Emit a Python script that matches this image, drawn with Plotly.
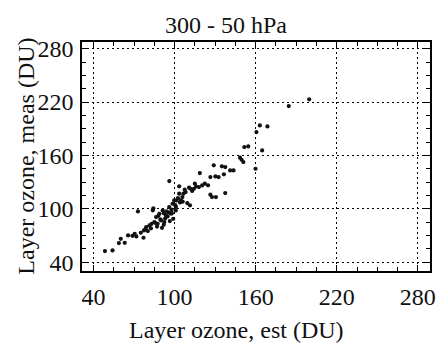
import plotly.graph_objects as go

# Layer ozone estimated (x) vs measured (y), DU
est = [48.5, 54.1, 58.8, 60.2, 63.1, 65.6, 68.8, 70.5, 71.7, 72.9, 75.0, 77.0, 77.3, 78.5, 79.0,
       80.2, 81.4, 82.5, 83.0, 83.9, 84.3, 85.0, 86.0, 86.3, 87.0, 87.5, 88.0, 88.7, 89.5, 90.0,
       90.7, 91.2, 92.0, 92.0, 92.4, 93.0, 93.6, 94.0, 94.8, 95.5, 96.0, 96.5, 96.1, 97.3, 97.8,
       98.0, 98.5, 99.0, 99.7, 100.5, 100.9, 101.0, 101.4, 102.5, 103.4, 103.4, 104.0, 104.6, 105.8,
       106.0, 106.5, 107.5, 108.2, 109.4, 110.7, 111.4, 111.9, 113.0, 114.3, 115.0, 116.0, 118.0,
       118.7, 120.4, 122.4, 124.8, 126.5, 126.5, 127.7, 129.0, 130.2, 130.6, 132.6, 135.0, 136.5,
       137.5, 137.5, 141.1, 143.6, 148.4, 149.6, 150.9, 151.6, 154.5, 159.9, 160.6, 163.1, 164.8,
       168.7, 184.5, 199.6]
meas = [52.4, 53.1, 61.4, 66.2, 61.7, 70.0, 69.6, 71.9, 68.9, 97.0, 73.0, 67.4, 75.6, 77.0, 79.4,
        74.9, 81.2, 78.0, 83.0, 98.2, 100.5, 85.0, 84.0, 90.6, 80.0, 83.1, 92.0, 94.4, 88.0, 86.9,
        78.6, 98.1, 82.0, 95.0, 85.0, 89.0, 92.5, 97.0, 91.4, 96.0, 101.9, 86.1, 131.1, 94.4, 99.0,
        95.0, 105.6, 88.7, 109.4, 104.0, 98.1, 102.0, 109.4, 112.0, 116.9, 125.2, 107.0, 109.4, 113.1,
        108.0, 117.0, 121.4, 118.7, 106.4, 123.7, 103.8, 122.5, 120.0, 122.5, 128.2, 125.0, 124.4,
        140.1, 126.2, 128.2, 126.3, 135.6, 115.8, 113.1, 148.8, 136.4, 113.1, 135.6, 147.7, 138.7,
        117.6, 146.9, 143.1, 143.1, 157.4, 155.1, 152.5, 169.4, 170.1, 145.0, 186.2, 193.7, 165.6,
        192.6, 215.5, 223.0]

tick_vals = [40, 100, 160, 220, 280]
tick_text = ["40", "100", "160", "220", "280"]

title_text = "300 - 50 hPa"
x_title = "Layer ozone, est (DU)"
y_title = "Layer ozone, meas (DU)"

FONT = "Liberation Serif, Times New Roman, serif"

fig = go.Figure()
fig.add_trace(go.Scatter(
    x=est, y=meas, mode="markers",
    marker=dict(size=4.2, color="#111111", line=dict(width=0)),
    showlegend=False,
))

axis_common = dict(
    tickmode="array", tickvals=tick_vals, ticktext=tick_text,
    ticks="inside", ticklen=6, tickwidth=1.3, tickcolor="black",
    minor=dict(dtick=15, tick0=40, ticks="inside", ticklen=4, tickwidth=1.1, tickcolor="black", showgrid=False),
    showline=True, linecolor="black", linewidth=1.5, mirror="allticks",
    showgrid=True, gridcolor="black", gridwidth=1, griddash="1.5px,3.5px",
    zeroline=False,
    tickfont=dict(family=FONT, size=24, color="#111"),
)

fig.update_xaxes(range=[31.5, 289], **axis_common, ticklabelstandoff=3)
fig.update_yaxes(range=[30, 287.5], **axis_common, ticklabelstandoff=2)

L, R, T, B, W, H = 82, 14, 42, 76, 448, 347
pw, ph = W - L - R, H - T - B

def px2paper(px, py):
    return (px - L) / pw, (H - B - py) / ph

annos = []
x0, y0 = px2paper(228, 25)
annos.append(dict(text=title_text, x=x0, y=y0, xref="paper", yref="paper", showarrow=False,
                  xanchor="center", yanchor="middle", font=dict(family=FONT, size=24, color="#111")))
x0, y0 = px2paper(238.5, 330)
annos.append(dict(text=x_title, x=x0, y=y0, xref="paper", yref="paper", showarrow=False,
                  xanchor="center", yanchor="middle", font=dict(family=FONT, size=24, color="#111")))
x0, y0 = px2paper(25, 156)
annos.append(dict(text=y_title, x=x0, y=y0, xref="paper", yref="paper", showarrow=False, textangle=-90,
                  xanchor="center", yanchor="middle", font=dict(family=FONT, size=24, color="#111")))

fig.update_layout(
    width=W, height=H,
    margin=dict(l=L, r=R, t=T, b=B),
    paper_bgcolor="white", plot_bgcolor="white",
    annotations=annos,
)

fig.write_html("out.html")
